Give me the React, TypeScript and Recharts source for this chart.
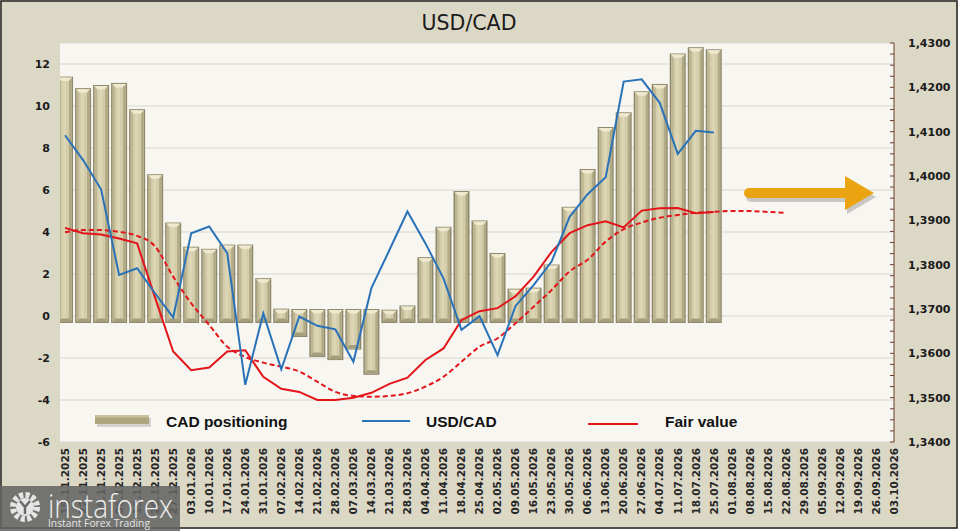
import React from "react";
import { ComposedChart, Bar, Line, XAxis, YAxis, CartesianGrid } from "recharts";

const dates = [
  "15.11.2025", "22.11.2025", "29.11.2025", "06.12.2025", "13.12.2025", "20.12.2025", "27.12.2025",
  "03.01.2026", "10.01.2026", "17.01.2026", "24.01.2026", "31.01.2026",
  "07.02.2026", "14.02.2026", "21.02.2026", "28.02.2026",
  "07.03.2026", "14.03.2026", "21.03.2026", "28.03.2026",
  "04.04.2026", "11.04.2026", "18.04.2026", "25.04.2026",
  "02.05.2026", "09.05.2026", "16.05.2026", "23.05.2026", "30.05.2026",
  "06.06.2026", "13.06.2026", "20.06.2026", "27.06.2026",
  "04.07.2026", "11.07.2026", "18.07.2026", "25.07.2026",
  "01.08.2026", "08.08.2026", "15.08.2026", "22.08.2026", "29.08.2026",
  "05.09.2026", "12.09.2026", "19.09.2026", "26.09.2026",
  "03.10.2026",
];

// CAD positioning (left axis)
const positioning = [
  11.4, 10.85, 11.0, 11.1, 9.85, 6.75, 4.45, 3.3, 3.2, 3.4, 3.4, 1.8, 0.35, -1.0, -1.95, -2.1,
  -1.6, -2.8, 0.3, 0.5, 2.8, 4.25, 5.95, 4.55, 3.0, 1.3, 1.35, 2.45, 5.2, 7.0, 9.0, 9.7, 10.7,
  11.05, 12.5, 12.8, 12.7,
];

// USD/CAD spot (right axis)
const usdCad = [
  1.4092, 1.4036, 1.397, 1.3777, 1.3792, 1.3735, 1.3681, 1.3871, 1.3886, 1.3826, 1.3529, 1.369,
  1.3564, 1.3683, 1.3662, 1.3654, 1.3581, 1.3747, 1.3833, 1.392, 1.3848, 1.3769, 1.3653, 1.3684,
  1.3596, 1.3707, 1.3754, 1.3807, 1.3908, 1.3959, 1.3997, 1.4213, 1.4218, 1.4165, 1.405, 1.4102,
  1.4098,
];

// fair value estimate (right axis)
const fairValue = [
  1.3883, 1.3871, 1.3868, 1.3859, 1.3848, 1.3725, 1.3604, 1.3562, 1.3568, 1.3604, 1.3607, 1.3547,
  1.352, 1.3513, 1.3495, 1.3495, 1.35, 1.3511, 1.3531, 1.3545, 1.3585, 1.3611, 1.3675, 1.3695,
  1.3702, 1.3729, 1.3773, 1.3829, 1.3871, 1.3889, 1.3898, 1.3884, 1.3922, 1.3927, 1.3928, 1.3916,
  1.3919,
];

// smoothed fair value, runs a few weeks past the last print
const fairTrend = [
  1.3873, 1.3878, 1.3878, 1.3874, 1.3865, 1.3841, 1.3773, 1.3713, 1.3664, 1.3615, 1.3592, 1.3579,
  1.357, 1.3559, 1.3536, 1.3513, 1.3504, 1.3502, 1.3504, 1.351, 1.3525, 1.3547, 1.3581, 1.3615,
  1.3634, 1.3668, 1.3705, 1.3743, 1.3785, 1.3811, 1.3852, 1.388, 1.3895, 1.3906, 1.3912, 1.3917,
  1.3919, 1.3921, 1.3921, 1.3919, 1.3917,
];

const positionTicks = [-6, -4, -2, 0, 2, 4, 6, 8, 10, 12];
const priceTicks = [1.34, 1.35, 1.36, 1.37, 1.38, 1.39, 1.4, 1.41, 1.42, 1.43];

// small marks every quarter step between the labelled price ticks
const priceMarks = priceTicks.flatMap((t, i) =>
  i === priceTicks.length - 1 ? [t] : [0, 1, 2, 3].map((k) => +(t + k * 0.0025).toFixed(4))
);

const data = dates.map((date, i) => ({
  idx: i,
  date,
  positioning: positioning[i] ?? null,
  usdCad: usdCad[i] ?? null,
  fairValue: fairValue[i] ?? null,
  fairTrend: fairTrend[i] ?? null,
}));

const BLUE = "#2a72b8";
const RED = "#e3151b";

function BevelBar(props: any) {
  const { x, y, width, height, payload } = props;
  const v = payload?.positioning;
  if (v == null || !isFinite(y) || !isFinite(height) || !isFinite(x)) return null;
  let top = Math.min(y, y + height);
  let bottom = Math.max(y, y + height);
  // the bevel cap pokes past the zero line on the base side
  if (v >= 0) bottom += 7;
  else top -= 7;
  const h = bottom - top;
  const l = x;
  const r = x + width;
  const c = 3.5;
  return (
    <g>
      <rect x={l} y={top} width={width} height={h} fill="#8f886b" />
      <rect x={l + 1.5} y={top + 1} width={width - 3} height={h - 2} fill="#d4cdaa" />
      <rect x={l + 1.5} y={top + 1} width={2.5} height={h - 2} fill="#bdb692" />
      <rect x={l + 6} y={top + 1} width={3} height={h - 2} fill="#dcd6b6" />
      <rect x={r - 4} y={top + 1} width={2.5} height={h - 2} fill="#b1aa86" />
      <polygon
        points={`${l + 1},${top + 1} ${r - 1},${top + 1} ${r - 1 - c},${top + 1 + c} ${l + 1 + c},${top + 1 + c}`}
        fill="#efeacf"
      />
      <polygon
        points={`${l + 1},${bottom - 1} ${r - 1},${bottom - 1} ${r - 1 - c},${bottom - 1 - c} ${l + 1 + c},${bottom - 1 - c}`}
        fill="#a59e7d"
      />
    </g>
  );
}

function DateTick({ x, y, payload }: any) {
  return (
    <text
      x={x}
      y={y}
      transform={`rotate(-90 ${x} ${y})`}
      textAnchor="end"
      dy="0.36em"
      fontSize={10.5}
      fontWeight={700}
      fontFamily="DejaVu Sans, Verdana, sans-serif"
      fill="#262626"
    >
      {dates[payload.value]}
    </text>
  );
}

function PriceTick({ x, y, payload }: any) {
  const v = payload.value;
  const major = Math.abs(v * 100 - Math.round(v * 100)) < 1e-6;
  return (
    <g>
      <line x1={x - 17} x2={x - 13} y1={y} y2={y} stroke="#6e3b2c" strokeWidth={1} />
      {major && (
        <text
          x={x + 1}
          y={y}
          dy="0.36em"
          textAnchor="start"
          fontSize={11}
          fontWeight={700}
          fontFamily="DejaVu Sans, Verdana, sans-serif"
          fill="#1b1b1b"
        >
          {v.toFixed(4).replace(".", ",")}
        </text>
      )}
    </g>
  );
}

export default function App() {
  const legendFont = {
    fontFamily: "Liberation Sans, Arial, sans-serif",
    fontSize: 15.5,
    fontWeight: 700,
    fill: "#111",
  };
  return (
    <div style={{ position: "relative", width: 961, height: 531, background: "#fff", overflow: "hidden" }}>
      <style>{`body{margin:0}`}</style>
      <div style={{ position: "absolute", left: 0, top: 0, width: 958, height: 529, background: "#dcd8c6" }} />
      <div style={{ position: "absolute", left: 0, top: 0 }}>
        <ComposedChart width={961} height={531} data={data} margin={{ top: 43, right: 0, bottom: 0, left: 0 }}>
          <CartesianGrid yAxisId="pos" vertical={false} stroke="#d7d6d1" fill="#f7f6f1" fillOpacity={1} />
          <XAxis
            dataKey="idx"
            type="number"
            domain={[-0.28, 46]}
            allowDataOverflow
            ticks={dates.map((_, i) => i)}
            interval={0}
            height={89}
            axisLine={false}
            tickLine={false}
            tickSize={0}
            tickMargin={6}
            tick={<DateTick />}
          />
          <YAxis
            yAxisId="pos"
            orientation="left"
            width={60}
            domain={[-6, 13]}
            ticks={positionTicks}
            interval={0}
            axisLine={false}
            tickLine={false}
            tickSize={0}
            tickMargin={10}
            tick={{ fontSize: 11, fontWeight: 700, fill: "#1b1b1b", fontFamily: "DejaVu Sans, Verdana, sans-serif" }}
          />
          <YAxis
            yAxisId="px"
            orientation="right"
            width={67}
            domain={[1.34, 1.43]}
            allowDataOverflow
            ticks={priceMarks}
            interval={0}
            axisLine={{ stroke: "#6e3b2c" }}
            tickLine={false}
            tickSize={0}
            tickMargin={13}
            tick={<PriceTick />}
          />
          <Bar yAxisId="pos" dataKey="positioning" barSize={16} shape={<BevelBar />} isAnimationActive={false} />
          <Line
            yAxisId="px"
            dataKey="fairTrend"
            type="monotone"
            stroke={RED}
            strokeWidth={2}
            strokeDasharray="5 3"
            dot={false}
            activeDot={false}
            isAnimationActive={false}
          />
          <Line
            yAxisId="px"
            dataKey="fairValue"
            type="linear"
            stroke={RED}
            strokeWidth={2}
            dot={false}
            activeDot={false}
            isAnimationActive={false}
          />
          <Line
            yAxisId="px"
            dataKey="usdCad"
            type="linear"
            stroke={BLUE}
            strokeWidth={2}
            dot={false}
            activeDot={false}
            isAnimationActive={false}
          />
        </ComposedChart>
      </div>

      {/* title, legend, arrow, frame and logo */}
      <svg width={961} height={531} style={{ position: "absolute", left: 0, top: 0, pointerEvents: "none" }}>
        <rect x={1} y={1} width={956} height={527} fill="none" stroke="#222" strokeWidth={1.5} />
        <text
          x={469}
          y={30}
          textAnchor="middle"
          fontFamily="DejaVu Sans, Verdana, sans-serif"
          fontSize={20.5}
          fill="#1a1a1a"
        >
          USD/CAD
        </text>

        <rect x={97} y={418} width={54} height={9} fill="rgba(0,0,0,0.15)" />
        <rect x={95} y={415} width={54} height={9} fill="#ada57d" />
        <rect x={95} y={415} width={54} height={2.5} fill="#c8c09a" />
        <text x={166} y={427} {...legendFont}>CAD positioning</text>
        <line x1={362} x2={410} y1={421} y2={421} stroke={BLUE} strokeWidth={2} />
        <text x={426} y={427} {...legendFont}>USD/CAD</text>
        <line x1={588} x2={638} y1={424} y2={424} stroke={RED} strokeWidth={2} />
        <text x={665} y={427} {...legendFont}>Fair value</text>

        <g transform="translate(2,4)" fill="rgba(60,60,60,0.25)">
          <rect x={744} y={188} width={106} height={10} rx={5} />
          <polygon points="845,176 874,193 845,210" />
        </g>
        <g fill="#eaa412">
          <rect x={744} y={188} width={106} height={10} rx={5} />
          <polygon points="845,176 874,193 845,210" />
        </g>

        <rect x={0} y={486} width={180} height={45} fill="rgba(100,100,100,0.88)" />
        <circle cx={25} cy={507} r={12} fill="none" stroke="#e6e6e6" strokeWidth={6} strokeDasharray="4 2.3" />
        <circle cx={25} cy={507} r={9} fill="#e6e6e6" />
        <path d="M20 501 L25 507 L30 501 M25 507 L25 514" stroke="#6a6a6a" strokeWidth={2.5} fill="none" />
        <text
          x={48}
          y={518}
          fontFamily="Open Sans, sans-serif"
          fontWeight={300}
          fontSize={33}
          fill="#ececec"
          textLength={125}
          lengthAdjust="spacingAndGlyphs"
        >
          instaforex
        </text>
        <text
          x={48}
          y={527}
          fontFamily="Open Sans, sans-serif"
          fontSize={11.5}
          fill="#e4e4e4"
          textLength={102}
          lengthAdjust="spacingAndGlyphs"
        >
          Instant Forex Trading
        </text>
      </svg>
    </div>
  );
}
